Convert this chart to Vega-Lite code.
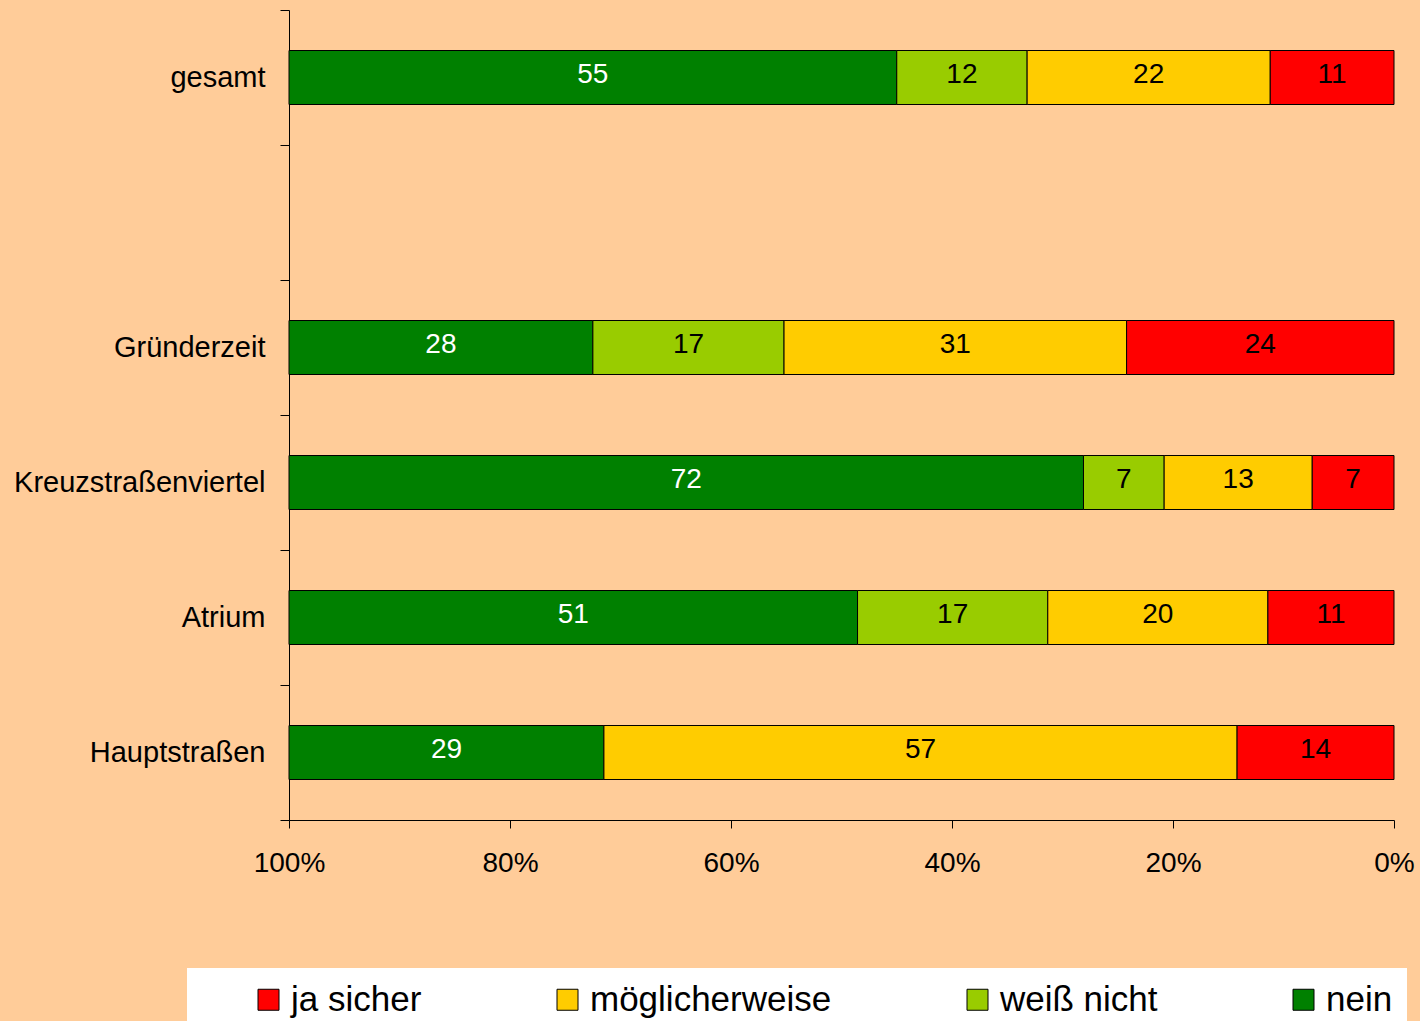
{
  "$schema": "https://vega.github.io/schema/vega-lite/v6.json",
  "width": 1105,
  "height": 810,
  "autosize": {"type": "none"},
  "padding": {"left": 289, "top": 10, "right": 26, "bottom": 201},
  "background": "#FFCC99",
  "config": {
    "view": {"stroke": null},
    "font": "Liberation Sans",
    "axis": {"grid": false, "title": null, "domainColor": "black", "tickColor": "black", "labelColor": "black", "labelFont": "Liberation Sans", "labelFontSize": 28}
  },
  "data": {
    "values": [
      {"Gebiet": "gesamt", "Antwort": "nein", "Rang": 4, "Anteil": 55.0},
      {"Gebiet": "gesamt", "Antwort": "weiß nicht", "Rang": 3, "Anteil": 11.8},
      {"Gebiet": "gesamt", "Antwort": "möglicherweise", "Rang": 2, "Anteil": 22.0},
      {"Gebiet": "gesamt", "Antwort": "ja sicher", "Rang": 1, "Anteil": 11.2},
      {"Gebiet": "Gründerzeit", "Antwort": "nein", "Rang": 4, "Anteil": 27.5},
      {"Gebiet": "Gründerzeit", "Antwort": "weiß nicht", "Rang": 3, "Anteil": 17.3},
      {"Gebiet": "Gründerzeit", "Antwort": "möglicherweise", "Rang": 2, "Anteil": 31.0},
      {"Gebiet": "Gründerzeit", "Antwort": "ja sicher", "Rang": 1, "Anteil": 24.2},
      {"Gebiet": "Kreuzstraßenviertel", "Antwort": "nein", "Rang": 4, "Anteil": 71.9},
      {"Gebiet": "Kreuzstraßenviertel", "Antwort": "weiß nicht", "Rang": 3, "Anteil": 7.3},
      {"Gebiet": "Kreuzstraßenviertel", "Antwort": "möglicherweise", "Rang": 2, "Anteil": 13.4},
      {"Gebiet": "Kreuzstraßenviertel", "Antwort": "ja sicher", "Rang": 1, "Anteil": 7.4},
      {"Gebiet": "Atrium", "Antwort": "nein", "Rang": 4, "Anteil": 51.4},
      {"Gebiet": "Atrium", "Antwort": "weiß nicht", "Rang": 3, "Anteil": 17.2},
      {"Gebiet": "Atrium", "Antwort": "möglicherweise", "Rang": 2, "Anteil": 19.9},
      {"Gebiet": "Atrium", "Antwort": "ja sicher", "Rang": 1, "Anteil": 11.4},
      {"Gebiet": "Hauptstraßen", "Antwort": "nein", "Rang": 4, "Anteil": 28.5},
      {"Gebiet": "Hauptstraßen", "Antwort": "möglicherweise", "Rang": 2, "Anteil": 57.3},
      {"Gebiet": "Hauptstraßen", "Antwort": "ja sicher", "Rang": 1, "Anteil": 14.2}
    ]
  },
  "encoding": {
    "y": {
      "field": "Gebiet",
      "type": "nominal",
      "scale": {"domain": ["gesamt", " ", "Gründerzeit", "Kreuzstraßenviertel", "Atrium", "Hauptstraßen"], "paddingInner": 0, "paddingOuter": 0},
      "axis": {"bandPosition": 1, "tickExtra": true, "tickSize": 9, "labelPadding": 15, "labelLimit": 0, "labelFontSize": 29, "domainColor": "black"}
    },
    "x": {
      "field": "Anteil",
      "type": "quantitative",
      "stack": "normalize",
      "scale": {"domain": [0, 1], "reverse": true, "nice": false},
      "axis": {"format": "%", "values": [0, 0.2, 0.4, 0.6, 0.8, 1], "tickSize": 8, "labelPadding": 21, "labelFlush": false}
    },
    "order": {"field": "Rang", "type": "quantitative", "sort": "ascending"}
  },
  "layer": [
    {
      "mark": {"type": "bar", "height": {"band": 0.4}, "stroke": "black", "strokeWidth": 1},
      "encoding": {
        "color": {
          "field": "Antwort",
          "type": "nominal",
          "sort": ["ja sicher", "möglicherweise", "weiß nicht", "nein"],
          "scale": {"domain": ["ja sicher", "möglicherweise", "weiß nicht", "nein"], "range": ["#FF0000", "#FFCC00", "#99CC00", "#008000"]},
          "legend": {
            "orient": "none",
            "direction": "horizontal",
            "legendX": -102,
            "legendY": 958,
            "fillColor": "white",
            "padding": 14,
            "title": " ",
            "titleOrient": "left",
            "titleFontSize": 2,
            "titlePadding": 50,
            "symbolType": "square",
            "symbolSize": 441,
            "symbolStrokeColor": "black",
            "symbolStrokeWidth": 1,
            "symbolOpacity": 1,
            "labelFont": "Liberation Sans",
            "labelFontSize": 35,
            "labelColor": "black",
            "labelOffset": 5,
            "labelLimit": 0,
            "columnPadding": 128
          }
        }
      }
    },
    {
      "mark": {"type": "text", "fontSize": 28, "font": "Liberation Sans", "align": "center", "baseline": "middle", "dy": -3},
      "encoding": {
        "x": {"field": "Anteil", "type": "quantitative", "stack": "normalize", "bandPosition": 0.5},
        "text": {"field": "Anteil", "type": "quantitative", "format": "d"},
        "color": {
          "field": "Antwort",
          "type": "nominal",
          "sort": ["ja sicher", "möglicherweise", "weiß nicht", "nein"],
          "scale": {"domain": ["ja sicher", "möglicherweise", "weiß nicht", "nein"], "range": ["black", "black", "black", "white"]},
          "legend": null
        }
      }
    }
  ],
  "resolve": {"scale": {"color": "independent"}}
}
